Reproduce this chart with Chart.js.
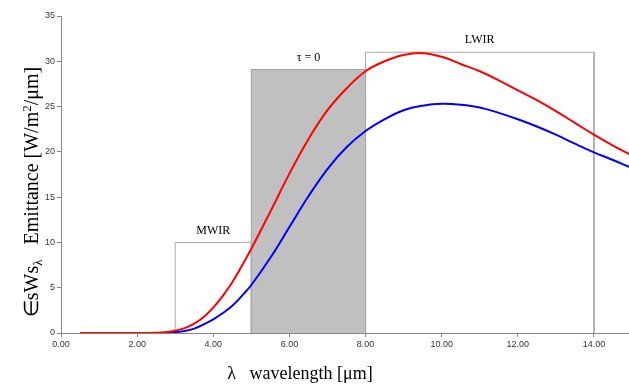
<!DOCTYPE html>
<html lang="en">
<head>
    <meta charset="UTF-8">
    <title>Emittance vs wavelength</title>
    <script src="https://cdn.jsdelivr.net/npm/chart.js@4.4.0/dist/chart.umd.min.js"></script>
    <style>
        html, body {
            margin: 0;
            padding: 0;
            background: #fff;
            overflow: hidden;
        }
        .chart-container {
            position: relative;
            width: 632px;
            height: 384px;
        }
    </style>
</head>
<body>
    <div class="chart-container">
        <canvas id="emitChart"></canvas>
    </div>

    <script>
        // wavelength samples (um)
        const wavelength = [0.5, 1, 1.5, 2, 2.5, 2.75, 3, 3.25, 3.5, 3.75, 4, 4.25, 4.5, 4.75, 5,
            5.5, 6, 6.5, 7, 7.5, 8, 8.5, 9, 9.5, 10, 10.5, 11, 11.5, 12, 12.5, 13, 13.5, 14, 14.5, 15];
        const redEmit = [0, 0, 0, 0, 0.03, 0.09, 0.25, 0.54, 1.04, 1.77, 2.8, 4.1, 5.6, 7.4, 9.3,
            13.4, 17.6, 21.4, 24.6, 27.0, 28.9, 30.0, 30.7, 30.9, 30.5, 29.7, 28.9, 27.9, 26.8, 25.7, 24.5, 23.2, 21.9, 20.7, 19.6];
        const blueEmit = [0, 0, 0, 0, 0.01, 0.03, 0.1, 0.22, 0.48, 0.95, 1.5, 2.2, 3.0, 4.1, 5.3,
            8.3, 11.7, 15.1, 18.1, 20.5, 22.3, 23.6, 24.6, 25.1, 25.3, 25.2, 24.9, 24.3, 23.6, 22.8, 21.9, 20.9, 19.95, 19.1, 18.2];

        // band boxes
        const boxStart = [3, 5, 8];
        const boxEnd = [5, 8, 14];
        const boxHeight = [10, 29.1, 31];
        const boxLabels = ['MWIR', 'τ = 0', 'LWIR'];

        const xTicks = [0, 2, 4, 6, 8, 10, 12, 14];

        function toPoints(xs, ys) {
            return xs.map((x, i) => ({ x: x, y: ys[i] }));
        }
        function boxPoints(i) {
            return [
                { x: boxStart[i], y: 0 },
                { x: boxStart[i], y: boxHeight[i] },
                { x: boxEnd[i], y: boxHeight[i] },
                { x: boxEnd[i], y: 0 }
            ];
        }

        const boxLabelPlugin = {
            id: 'boxLabels',
            afterDatasetsDraw(chart) {
                const ctx = chart.ctx;
                const xs = chart.scales.x, ys = chart.scales.y;
                ctx.save();
                ctx.fillStyle = '#000';
                ctx.font = '12px "Liberation Serif", "Times New Roman", serif';
                ctx.textAlign = 'center';
                ctx.textBaseline = 'middle';
                boxLabels.forEach((lab, i) => {
                    const cx = xs.getPixelForValue((boxStart[i] + boxEnd[i]) / 2);
                    const cy = ys.getPixelForValue(boxHeight[i]) - 12;
                    ctx.fillText(lab, cx, cy);
                });
                ctx.restore();
            }
        };

        const titlePlugin = {
            id: 'axisTitles',
            afterDraw(chart) {
                const ctx = chart.ctx;
                ctx.save();
                ctx.fillStyle = '#000';
                ctx.textBaseline = 'alphabetic';
                const big = '20px "Liberation Serif", "Times New Roman", serif';
                const small = '13px "Liberation Serif", "Times New Roman", serif';

                // x title
                ctx.font = '18px "Liberation Serif", "Times New Roman", serif';
                ctx.textAlign = 'center';
                ctx.fillText('λ   wavelength [μm]', 300, 379);

                // y title, rotated, with subscript lambda
                const parts = [
                    { t: '∈sWs', f: big, dy: 0 },
                    { t: 'λ', f: small, dy: 4 },
                    { t: '   Emittance [W/m', f: big, dy: 0 },
                    { t: '2', f: small, dy: -7 },
                    { t: '/μm]', f: big, dy: 0 }
                ];
                let total = 0;
                parts.forEach(p => { ctx.font = p.f; p.w = ctx.measureText(p.t).width; total += p.w; });
                ctx.translate(38, 192);
                ctx.rotate(-Math.PI / 2);
                ctx.textAlign = 'left';
                let px = -total / 2;
                parts.forEach(p => {
                    ctx.font = p.f;
                    ctx.fillText(p.t, px, p.dy);
                    px += p.w;
                });
                ctx.restore();
            }
        };

        const ctx = document.getElementById('emitChart').getContext('2d');
        const chart = new Chart(ctx, {
            type: 'line',
            data: {
                datasets: [
                    {
                        label: 'Red',
                        data: toPoints(wavelength, redEmit),
                        borderColor: '#ff0000',
                        borderWidth: 2,
                        pointRadius: 0,
                        tension: 0.4,
                        fill: false
                    },
                    {
                        label: 'Blue',
                        data: toPoints(wavelength, blueEmit),
                        borderColor: '#0000ff',
                        borderWidth: 2,
                        pointRadius: 0,
                        tension: 0.4,
                        fill: false
                    },
                    {
                        label: boxLabels[0],
                        data: boxPoints(0),
                        borderColor: '#a8a8a8',
                        borderWidth: 1,
                        pointRadius: 0,
                        tension: 0,
                        fill: false
                    },
                    {
                        label: boxLabels[2],
                        data: boxPoints(2),
                        borderColor: '#a8a8a8',
                        borderWidth: 1,
                        pointRadius: 0,
                        tension: 0,
                        fill: false
                    },
                    {
                        label: boxLabels[1],
                        data: boxPoints(1),
                        borderColor: '#a0a0a0',
                        backgroundColor: '#c0c0c0',
                        borderWidth: 1,
                        pointRadius: 0,
                        tension: 0,
                        fill: 'origin'
                    }
                ]
            },
            options: {
                responsive: true,
                maintainAspectRatio: false,
                animation: false,
                layout: { padding: { left: 0, top: 16, right: 0, bottom: 0 } },
                plugins: {
                    legend: { display: false },
                    tooltip: { enabled: false }
                },
                scales: {
                    x: {
                        type: 'linear',
                        min: 0,
                        max: 15,
                        afterFit(scale) { scale.height = 51; },
                        afterBuildTicks(scale) {
                            scale.ticks = xTicks.map(v => ({ value: v }));
                        },
                        border: { color: '#888', width: 1 },
                        grid: { drawOnChartArea: false, tickLength: 4, color: '#888' },
                        ticks: {
                            color: '#333',
                            font: { family: 'Liberation Sans, Arial, sans-serif', size: 9 },
                            padding: 2,
                            maxRotation: 0,
                            callback: v => v.toFixed(2)
                        }
                    },
                    y: {
                        min: 0,
                        max: 35,
                        afterFit(scale) { scale.width = 61; },
                        border: { color: '#888', width: 1 },
                        grid: { drawOnChartArea: false, tickLength: 4, color: '#888' },
                        ticks: {
                            stepSize: 5,
                            color: '#333',
                            font: { family: 'Liberation Sans, Arial, sans-serif', size: 9 },
                            padding: 2
                        }
                    }
                }
            },
            plugins: [boxLabelPlugin, titlePlugin]
        });
    </script>
</body>
</html>
